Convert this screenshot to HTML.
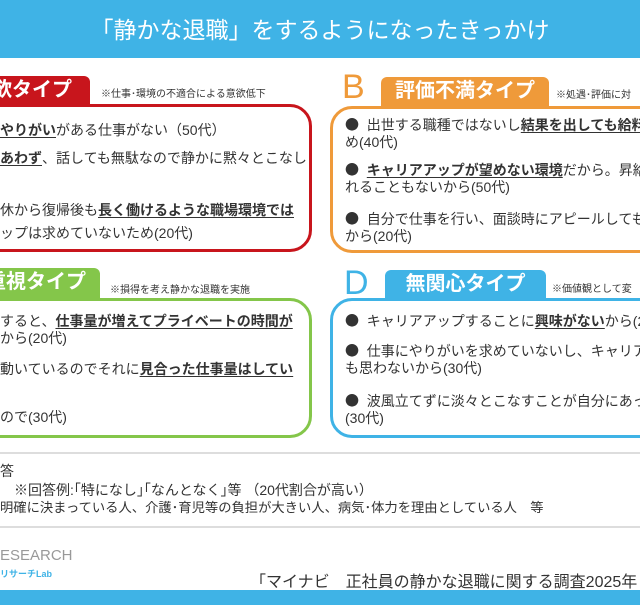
<!DOCTYPE html>
<html><head><meta charset="utf-8"><style>
*{margin:0;padding:0;box-sizing:border-box}
body{width:640px;height:605px;overflow:hidden;position:relative;background:#fff;font-family:"Liberation Sans","Noto Sans CJK JP",sans-serif;color:#333}
.a{position:absolute;white-space:nowrap}
.hd{left:0;top:0;width:640px;height:58px;background:#3fb3e6;color:#fff;font-size:23px;text-align:center;line-height:60px}
.card{position:absolute;border:3px solid;border-radius:22px;background:#fff}
.tab{position:absolute;color:#fff;font-size:20px;font-weight:bold;line-height:28px;text-align:center;border-radius:6px 6px 0 0}
.note{font-size:10px;color:#333}
.t{font-size:14px;line-height:17px}
.b{font-family:"Noto Sans CJK JP",sans-serif;font-size:14px}
u{text-decoration:underline;font-weight:bold;text-underline-offset:2px}
.L{position:absolute;font-size:34px;line-height:34px;font-family:"Liberation Sans",sans-serif}
</style></head><body>
<div class="a hd">「静かな退職」をするようになったきっかけ</div>

<!-- A -->
<div class="tab" style="left:-20px;top:76px;width:110px;height:30px;background:#c8151c;text-align:right;padding-right:18px">欲タイプ</div>
<div class="a note" style="left:101px;top:85px">※仕事･環境の不適合による意欲低下</div>
<div class="card" style="left:-30px;top:104px;width:342px;height:148px;border-color:#c8151c"></div>
<div class="a t" style="left:0;top:122px"><u>やりがい</u>がある仕事がない（50代）</div>
<div class="a t" style="left:0;top:150px"><u>あわず</u>、話しても無駄なので静かに黙々とこなし</div>
<div class="a t" style="left:0;top:202px">休から復帰後も<u>長く働けるような職場環境では</u></div>
<div class="a t" style="left:0;top:225px">ップは求めていないため(20代)</div>

<!-- B -->
<div class="L" style="left:342px;top:70px;color:#ef9a3a">B</div>
<div class="tab" style="left:381px;top:77px;width:168px;height:30px;background:#ef9a3a">評価不満タイプ</div>
<div class="a note" style="left:556px;top:86px">※処遇･評価に対</div>
<div class="card" style="left:330px;top:106px;width:340px;height:147px;border-color:#ef9a3a"></div>
<div class="a t" style="left:345px;top:117px"><span class="b">●</span>&nbsp; 出世する職種ではないし<u>結果を出しても給料</u></div>
<div class="a t" style="left:345px;top:134px">め(40代)</div>
<div class="a t" style="left:345px;top:162px"><span class="b">●</span>&nbsp; <u>キャリアアップが望めない環境</u>だから。昇給も</div>
<div class="a t" style="left:345px;top:179px">れることもないから(50代)</div>
<div class="a t" style="left:345px;top:211px"><span class="b">●</span>&nbsp; 自分で仕事を行い、面談時にアピールしても評</div>
<div class="a t" style="left:345px;top:228px">から(20代)</div>

<!-- C -->
<div class="tab" style="left:-20px;top:268px;width:120px;height:32px;background:#84c64a;text-align:right;padding-right:14px">重視タイプ</div>
<div class="a note" style="left:110px;top:281px">※損得を考え静かな退職を実施</div>
<div class="card" style="left:-30px;top:298px;width:342px;height:140px;border-color:#84c64a"></div>
<div class="a t" style="left:0;top:313px">すると、<u>仕事量が増えてプライベートの時間が</u></div>
<div class="a t" style="left:0;top:330px">から(20代)</div>
<div class="a t" style="left:0;top:361px">動いているのでそれに<u>見合った仕事量はしてい</u></div>
<div class="a t" style="left:0;top:409px">ので(30代)</div>

<!-- D -->
<div class="L" style="left:344px;top:266px;color:#3fb3e6">D</div>
<div class="tab" style="left:385px;top:270px;width:161px;height:30px;background:#3fb3e6">無関心タイプ</div>
<div class="a note" style="left:552px;top:280px">※価値観として変</div>
<div class="card" style="left:330px;top:298px;width:340px;height:140px;border-color:#3fb3e6"></div>
<div class="a t" style="left:345px;top:313px"><span class="b">●</span>&nbsp; キャリアアップすることに<u>興味がない</u>から(2</div>
<div class="a t" style="left:345px;top:343px"><span class="b">●</span>&nbsp; 仕事にやりがいを求めていないし、キャリアア</div>
<div class="a t" style="left:345px;top:360px">も思わないから(30代)</div>
<div class="a t" style="left:345px;top:393px"><span class="b">●</span>&nbsp; 波風立てずに淡々とこなすことが自分にあっ</div>
<div class="a t" style="left:345px;top:410px">(30代)</div>

<!-- bottom -->
<div class="a" style="left:0;top:452px;width:640px;height:2px;background:#ddd"></div>
<div class="a t" style="left:0;top:463px">答</div>
<div class="a t" style="left:14px;top:482px">※回答例:｢特になし｣｢なんとなく｣等 （20代割合が高い）</div>
<div class="a" style="left:0;top:499px;font-size:13.3px;line-height:17px">明確に決まっている人、介護･育児等の負担が大きい人、病気･体力を理由としている人　等</div>
<div class="a" style="left:0;top:526px;width:640px;height:2px;background:#ddd"></div>
<div class="a" style="left:0;top:547px;font-size:15px;color:#999">ESEARCH</div>
<div class="a" style="left:0;top:567px;font-size:9px;color:#3fb3e6;font-weight:bold">リサーチLab</div>
<div class="a" style="left:258px;top:568px;font-size:16px">｢マイナビ　正社員の静かな退職に関する調査2025年</div>
<div class="a" style="left:0;top:590px;width:640px;height:15px;background:#3fb3e6"></div>
</body></html>
